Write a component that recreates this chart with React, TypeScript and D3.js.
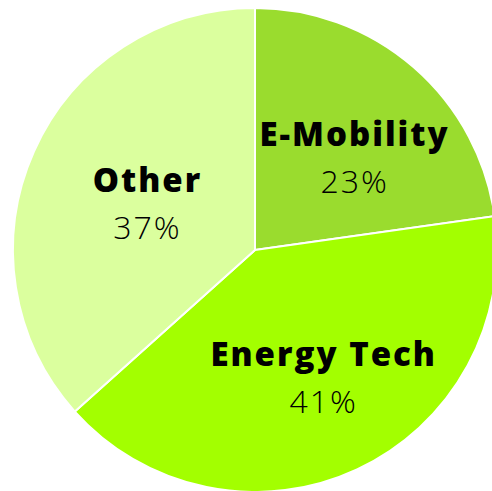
import React from "react";
import * as d3 from "d3";

const categories = ["E-Mobility", "Energy Tech", "Other"];
const values = [23, 41, 37];
const colors = ["#9adc2e", "#a3ff00", "#dbff9e"];

const W = 492;
const H = 491;
const cx = 255;
const cy = 250;
const R = 242;

export default function App() {
  const pie = d3.pie<number>().sort(null).value((d) => d);
  const arcs = pie(values);
  const arc = d3.arc<d3.PieArcDatum<number>>().innerRadius(0).outerRadius(R);
  const labelArc = d3.arc<d3.PieArcDatum<number>>().innerRadius(132).outerRadius(132);
  const total = d3.sum(values);
  return (
    <svg width={W} height={H} style={{ position: "absolute", left: 0, top: 0, background: "#fff" }}>
      <g transform={`translate(${cx},${cy})`}>
        {arcs.map((a, i) => (
          <path key={i} d={arc(a) || ""} fill={colors[i]} stroke="#fff" strokeWidth={2} />
        ))}
        {arcs.map((a, i) => {
          const [x, y] = labelArc.centroid(a);
          const lx = x + 13;
          const ly = y + 18;
          return (
            <g key={"l" + i} fontFamily="'Open Sans', sans-serif" textAnchor="middle" fill="#000">
              <text x={lx} y={ly - 22} fontSize={33} fontWeight={800} letterSpacing={2}>
                {categories[i]}
              </text>
              <text x={lx} y={ly + 25} fontSize={32} fontWeight={300} letterSpacing={2}>
                {Math.round((values[i] / total) * 100)}%
              </text>
            </g>
          );
        })}
      </g>
    </svg>
  );
}
